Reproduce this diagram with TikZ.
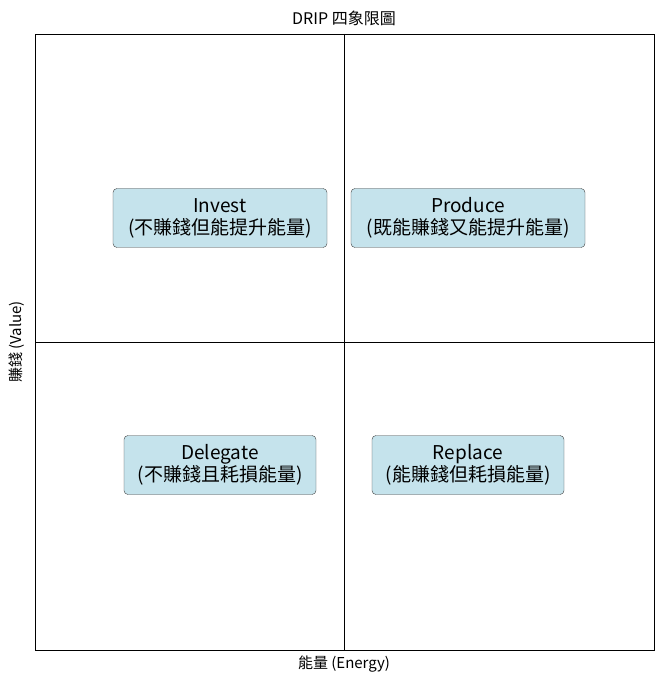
\documentclass[tikz,border=0pt]{standalone}
\usepackage{fontspec}
\setmainfont{Noto Sans CJK TC}
\begin{document}
\begin{tikzpicture}[x=1pt,y=-1pt,
  quad/.style={draw=black!75,fill={rgb,255:red,197;green,227;blue,236},rounded corners=4pt,minimum height=59pt,align=center,font=\fontsize{19}{22}\selectfont,inner xsep=6pt},
  lbl/.style={font=\fontsize{15}{18}\selectfont}]
\useasboundingbox (0,0) rectangle (663,684);
\draw[line width=0.8pt] (35,34) rectangle (654,650);
\draw[line width=0.8pt] (344,34) -- (344,650);
\draw[line width=0.8pt] (35,342) -- (654,342);
\node[quad,minimum width=214pt] (inv) at (220,218) {Invest\\(不賺錢但能提升能量)};
\node[quad,minimum width=234pt] (pro) at (468,218) {Produce\\(既能賺錢又能提升能量)};
\node[quad,minimum width=192pt] (del) at (220,465) {Delegate\\(不賺錢且耗損能量)};
\node[quad,minimum width=192pt] (rep) at (468,465) {Replace\\(能賺錢但耗損能量)};
\node[lbl,font=\fontsize{16}{19}\selectfont] (t) at (344,18) {DRIP 四象限圖};
\node[lbl] (xl) at (344,664) {能量 (Energy)};
\node[lbl,rotate=90] (yl) at (17,342) {賺錢 (Value)};
\end{tikzpicture}
\end{document}
